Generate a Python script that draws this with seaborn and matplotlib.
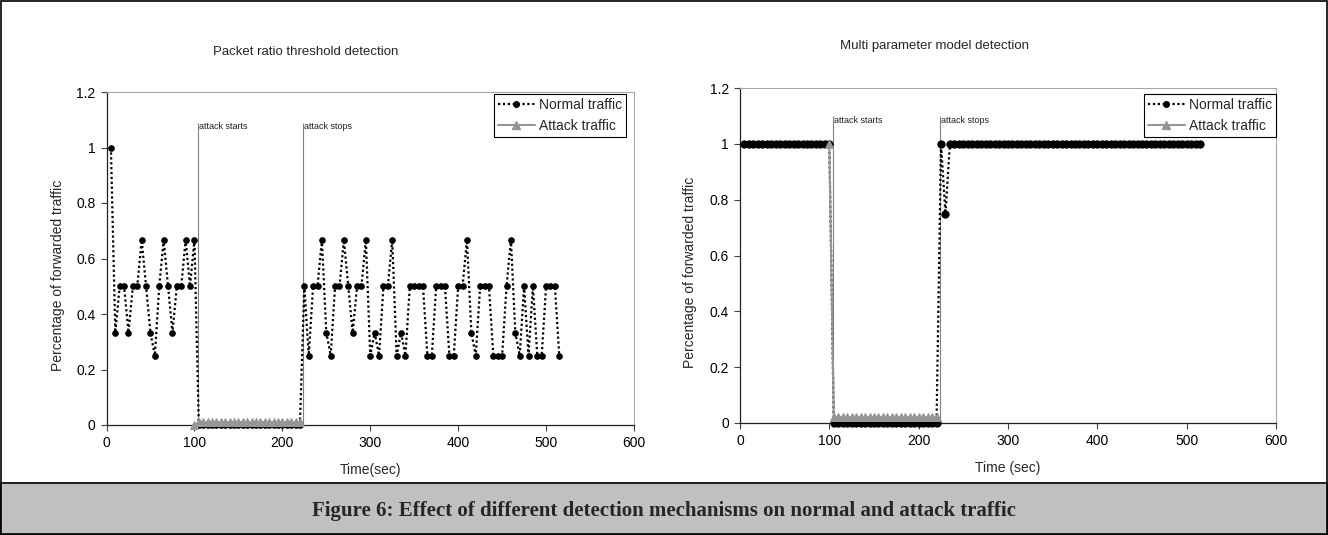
import matplotlib
matplotlib.use("Agg")
import matplotlib.pyplot as plt
import seaborn as sns
from matplotlib.ticker import FuncFormatter
from matplotlib.patches import Rectangle
from matplotlib.lines import Line2D

# ---------------- data ----------------
time_s = [5, 10, 15, 20, 25, 30, 35, 40, 45, 50, 55, 60, 65, 70, 75, 80, 85, 90, 95, 100,
          105, 110, 115, 120, 125, 130, 135, 140, 145, 150, 155, 160, 165, 170, 175, 180,
          185, 190, 195, 200, 205, 210, 215, 220,
          225, 230, 235, 240, 245, 250, 255, 260, 265, 270, 275, 280, 285, 290, 295, 300,
          305, 310, 315, 320, 325, 330, 335, 340, 345, 350, 355, 360, 365, 370, 375, 380,
          385, 390, 395, 400, 405, 410, 415, 420, 425, 430, 435, 440, 445, 450, 455, 460,
          465, 470, 475, 480, 485, 490, 495, 500, 505, 510, 515]

attack_time_s = [100, 105, 110, 115, 120, 125, 130, 135, 140, 145, 150, 155, 160, 165,
                 170, 175, 180, 185, 190, 195, 200, 205, 210, 215, 220]

left_normal = [1.0, 0.333, 0.5, 0.5, 0.333, 0.5, 0.5, 0.667, 0.5, 0.333,
               0.25, 0.5, 0.667, 0.5, 0.333, 0.5, 0.5, 0.667, 0.5, 0.667,
               0, 0, 0, 0, 0, 0, 0, 0, 0, 0, 0, 0, 0, 0, 0, 0, 0, 0, 0, 0, 0, 0, 0, 0,
               0.5, 0.25, 0.5, 0.5, 0.667, 0.333, 0.25, 0.5, 0.5, 0.667,
               0.5, 0.333, 0.5, 0.5, 0.667, 0.25, 0.333, 0.25, 0.5, 0.5,
               0.667, 0.25, 0.333, 0.25, 0.5, 0.5, 0.5, 0.5, 0.25, 0.25,
               0.5, 0.5, 0.5, 0.25, 0.25, 0.5, 0.5, 0.667, 0.333, 0.25,
               0.5, 0.5, 0.5, 0.25, 0.25, 0.25, 0.5, 0.667, 0.333, 0.25,
               0.5, 0.25, 0.5, 0.25, 0.25, 0.5, 0.5, 0.5, 0.25]

left_attack = [0, 0.01, 0.01, 0.01, 0.01, 0.01, 0.01, 0.01, 0.01, 0.01, 0.01, 0.01, 0.01,
               0.01, 0.01, 0.01, 0.01, 0.01, 0.01, 0.01, 0.01, 0.01, 0.01, 0.01, 0.01]

right_normal = [1, 1, 1, 1, 1, 1, 1, 1, 1, 1, 1, 1, 1, 1, 1, 1, 1, 1, 1, 1,
                0, 0, 0, 0, 0, 0, 0, 0, 0, 0, 0, 0, 0, 0, 0, 0, 0, 0, 0, 0, 0, 0, 0, 0,
                1, 0.75, 1, 1, 1, 1, 1, 1, 1, 1, 1, 1, 1, 1, 1, 1, 1, 1, 1, 1, 1, 1,
                1, 1, 1, 1, 1, 1, 1, 1, 1, 1, 1, 1, 1, 1, 1, 1, 1, 1, 1, 1, 1, 1,
                1, 1, 1, 1, 1, 1, 1, 1, 1, 1, 1, 1, 1, 1, 1]

right_attack = [1.0, 0.02, 0.02, 0.02, 0.02, 0.02, 0.02, 0.02, 0.02, 0.02, 0.02, 0.02, 0.02,
                0.02, 0.02, 0.02, 0.02, 0.02, 0.02, 0.02, 0.02, 0.02, 0.02, 0.02, 0.02]

left_event_times = [104, 223]
right_event_times = [104, 224]
event_labels = ["attack starts", "attack stops"]
panel_titles = ["Packet ratio threshold detection", "Multi parameter model detection"]
x_labels = ["Time(sec)", "Time (sec)"]
y_label = "Percentage of forwarded traffic"
legend_labels = ["Normal traffic", "Attack traffic"]
x_ticks = [0, 100, 200, 300, 400, 500, 600]
y_ticks = [0, 0.2, 0.4, 0.6, 0.8, 1.0, 1.2]
caption = "Figure 6: Effect of different detection mechanisms on normal and attack traffic"

# ---------------- styling ----------------
sns.set_style("white")
plt.rcParams["font.family"] = ["Liberation Sans", "DejaVu Sans"]

W, H = 1328, 535
fig = plt.figure(figsize=(W / 100, H / 100), dpi=100)
fig.patch.set_facecolor("white")

NORMAL_COLOR = "black"
ATTACK_COLOR = "#969696"
DOT = (0, (1, 1.2))


def px_axes(x0, x1, ytop, ybot):
    return fig.add_axes([x0 / W, 1 - ybot / H, (x1 - x0) / W, (ybot - ytop) / H])


axL = px_axes(106.5, 634, 92, 425)
axR = px_axes(740, 1276, 88, 423)

panels = [
    (axL, left_normal, left_attack, left_event_times, 4.0, 1.09, 1.075),
    (axR, right_normal, right_attack, right_event_times, 5.2, 1.10, 1.085),
]

for ax, normal, attack, events, ms, ltop, ty in panels:
    sns.lineplot(x=time_s, y=normal, ax=ax, color=NORMAL_COLOR, linestyle=DOT,
                 linewidth=1.6, marker="o", markersize=ms, markeredgecolor=NORMAL_COLOR,
                 markerfacecolor=NORMAL_COLOR, estimator=None, clip_on=False, zorder=3)
    sns.lineplot(x=attack_time_s, y=attack, ax=ax, color=ATTACK_COLOR, linewidth=1.5,
                 marker="^", markersize=6, markeredgecolor=ATTACK_COLOR,
                 markerfacecolor=ATTACK_COLOR, estimator=None, clip_on=False, zorder=4)
    for t, lab in zip(events, event_labels):
        ax.vlines(t, 0, ltop, color="#808080", linewidth=0.8, zorder=2)
        ax.text(t + 1.2, ty, lab, fontsize=6.5, ha="left", va="center", color="#222222")

    ax.set_xlim(0, 600)
    ax.set_ylim(0, 1.2)
    ax.set_xticks(x_ticks)
    ax.set_yticks(y_ticks)
    ax.yaxis.set_major_formatter(FuncFormatter(lambda v, p: f"{v:g}"))
    ax.xaxis.set_major_formatter(FuncFormatter(lambda v, p: f"{v:g}"))
    ax.tick_params(axis="both", which="major", bottom=True, left=True, direction="out",
                   length=4, width=0.8, color="#404040", labelsize=10, pad=4,
                   labelcolor="black")
    ax.set_xlabel("")
    ax.set_ylabel("")
    for side in ["left", "bottom"]:
        ax.spines[side].set_color("#202020")
        ax.spines[side].set_linewidth(0.9)
    for side in ["top", "right"]:
        ax.spines[side].set_color("#a8a8a8")
        ax.spines[side].set_linewidth(0.8)
    ax.set_facecolor("white")

    handles = [
        Line2D([], [], color=NORMAL_COLOR, linestyle=DOT, linewidth=1.6, marker="o",
               markersize=4),
        Line2D([], [], color=ATTACK_COLOR, linewidth=1.5, marker="^", markersize=6),
    ]
    leg = ax.legend(handles, legend_labels, loc="upper right",
                    bbox_to_anchor=(1 - 8 / 527, 0.994) if ax is axL else (1.0, 0.982),
                    frameon=True, fancybox=False, edgecolor="black", framealpha=1,
                    fontsize=10, handlelength=2.6, handletextpad=0.3, borderpad=0.3,
                    labelspacing=0.5, borderaxespad=0)
    leg.get_frame().set_linewidth(0.8)

# titles and axis labels placed in figure pixels
fig.text(306 / W, 1 - 52 / H, panel_titles[0], ha="center", va="center", fontsize=9.5)
fig.text(935 / W, 1 - 46 / H, panel_titles[1], ha="center", va="center", fontsize=9.5)
fig.text(58 / W, 1 - 275 / H, y_label, rotation=90, ha="center", va="center", fontsize=10)
fig.text(690 / W, 1 - 272 / H, y_label, rotation=90, ha="center", va="center", fontsize=10)
fig.text(370 / W, 1 - 470 / H, x_labels[0], ha="center", va="center", fontsize=10)
fig.text(1008 / W, 1 - 468 / H, x_labels[1], ha="center", va="center", fontsize=10)

# caption band and borders
fig.patches.append(Rectangle((0, 0), 1, 52 / H, transform=fig.transFigure,
                             facecolor="#c0c0c0", edgecolor="black", linewidth=1.2,
                             zorder=0))
fig.patches.append(Rectangle((0.0008, 0.001), 0.9984, 0.997, transform=fig.transFigure,
                             fill=False, edgecolor="black", linewidth=1.2, zorder=5))
fig.text(0.5, 1 - 511 / H, caption, ha="center", va="center", fontsize=15,
         fontweight="bold", family=["Liberation Serif", "DejaVu Serif"])

fig.savefig("out.png", dpi=100, facecolor="white")
